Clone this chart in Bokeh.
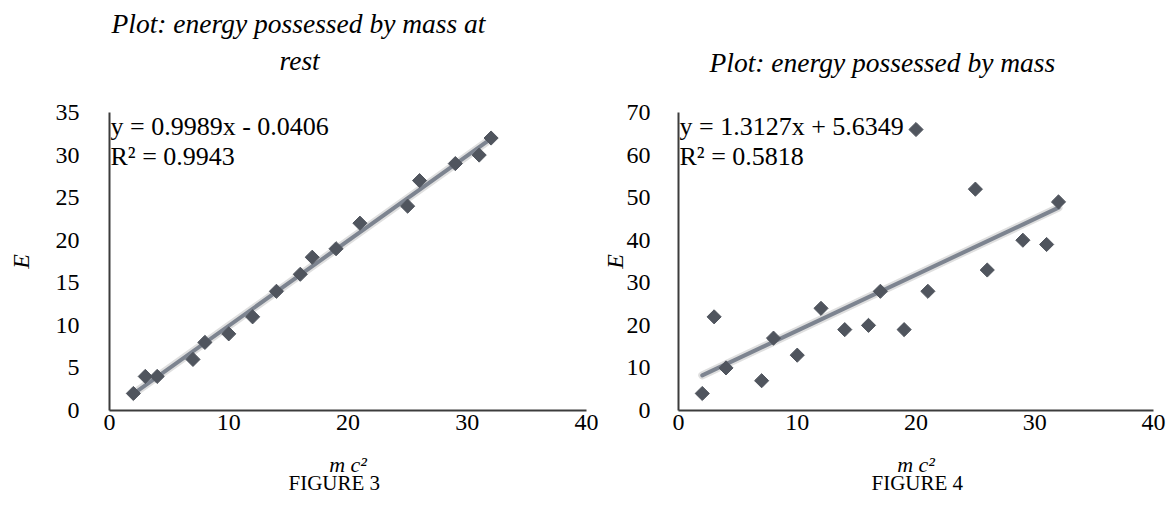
import numpy as np
from bokeh.plotting import figure
from bokeh.models import Range1d, FixedTicker, Label, Title
from bokeh.layouts import row
from bokeh.embed import file_html
from bokeh.resources import INLINE

# ---- data ----
mc2_fig3 = [2, 3, 4, 7, 8, 10, 12, 14, 16, 17, 19, 21, 25, 26, 29, 31, 32]
E_fig3 = [2, 4, 4, 6, 8, 9, 11, 14, 16, 18, 19, 22, 24, 27, 29, 30, 32]

mc2_fig4 = [2, 3, 4, 7, 8, 10, 12, 14, 16, 17, 19, 20, 21, 25, 26, 29, 31, 32]
E_fig4 = [4, 22, 10, 7, 17, 13, 24, 19, 20, 28, 19, 66, 28, 52, 33, 40, 39, 49]

x_ticks = [0, 10, 20, 30, 40]
y_ticks_fig3 = [0, 5, 10, 15, 20, 25, 30, 35]
y_ticks_fig4 = [0, 10, 20, 30, 40, 50, 60, 70]

title_fig3 = ["Plot: energy possessed by mass at", "rest"]
title_fig4 = ["Plot: energy possessed by mass"]
eq_fig3 = ["y = 0.9989x - 0.0406", "R\u00b2 = 0.9943"]
eq_fig4 = ["y = 1.3127x + 5.6349", "R\u00b2 = 0.5818"]
x_label = "m c\u00b2"
y_label = "E"
caption_fig3 = "FIGURE 3"
caption_fig4 = "FIGURE 4"

SERIF = "Liberation Serif"
MARKER = "#50555e"
TREND = "#7d8490"
AXIS = "#3c3c3c"


def make(xs, ys, ymax, yticks, width, bl, br, titles, title_offsets, title_gap,
         eqs, caption, cap_offset, ylab_standoff, ytick_standoff):
    p = figure(width=width, height=504, x_range=Range1d(0, 40), y_range=Range1d(0, ymax),
               output_backend="svg", toolbar_location=None, title=None,
               min_border_left=bl, min_border_right=br, min_border_top=112, min_border_bottom=94)
    p.background_fill_color = "white"
    p.border_fill_color = "white"
    p.outline_line_color = None
    p.xgrid.visible = False
    p.ygrid.visible = False

    p.xaxis.ticker = FixedTicker(ticks=x_ticks)
    p.yaxis.ticker = FixedTicker(ticks=yticks)
    for ax in (p.xaxis, p.yaxis):
        ax.axis_line_color = AXIS
        ax.axis_line_width = 2
        ax.major_tick_out = 0
        ax.major_tick_in = 0
        ax.minor_tick_out = 0
        ax.minor_tick_in = 0
        ax.major_label_text_font = SERIF
        ax.major_label_text_font_size = "24px"
        ax.major_label_text_color = "black"
        ax.axis_label_text_font = SERIF
        ax.axis_label_text_font_style = "italic"
        ax.axis_label_text_color = "black"
    p.xaxis.major_label_standoff = 4
    p.yaxis.major_label_standoff = ytick_standoff
    p.xaxis.axis_label = x_label
    p.xaxis.axis_label_text_font_size = "22px"
    p.xaxis.axis_label_standoff = 19
    p.yaxis.axis_label = y_label
    p.yaxis.axis_label_text_font_size = "24px"
    p.yaxis.axis_label_standoff = ylab_standoff

    # trendline (least squares) from min to max x, with a soft shadow
    k, b = np.polyfit(np.array(xs, float), np.array(ys, float), 1)
    tx = np.array([min(xs), max(xs)], float)
    p.line(tx, k * tx + b, line_color="#b8b8b8", line_alpha=0.45, line_width=8, line_cap="round")
    p.line(tx, k * tx + b, line_color=TREND, line_width=4, line_cap="round")

    p.scatter(xs, ys, marker="square", size=10, angle=np.pi / 4,
              fill_color=MARKER, line_color=MARKER)

    # titles: spacer first (closest to frame), then lines bottom-up
    p.add_layout(Title(text=" ", text_font_size="1px", standoff=title_gap), "above")
    for t, off in zip(reversed(titles), reversed(title_offsets)):
        p.add_layout(Title(text=t, align="left", offset=off, text_font=SERIF,
                           text_font_size="27.5px", text_font_style="italic",
                           text_color="black", standoff=4), "above")

    # equation
    for t, yb in zip(eqs, [284, 254]):
        p.add_layout(Label(x=1, y=yb, x_units="screen", y_units="screen", text=t,
                           text_font=SERIF, text_font_size="26px", text_color="black",
                           text_baseline="alphabetic"))

    # caption
    p.add_layout(Title(text=caption, align="left", offset=cap_offset, text_font=SERIF,
                       text_font_size="21px", text_font_style="normal", text_color="black",
                       vertical_align="top", standoff=-18), "below")
    return p


p3 = make(mc2_fig3, E_fig3, 35, y_ticks_fig3, 598, 109, 12, title_fig3, [2, 170], 32,
          eq_fig3, caption_fig3, 179, 19, 30)
p4 = make(mc2_fig4, E_fig4, 70, y_ticks_fig4, 570, 76, 15, title_fig4, [31], 30,
          eq_fig4, caption_fig4, 193, -4, 28)

layout = row(p3, p4)
open("out.html", "w").write(file_html(layout, INLINE))
